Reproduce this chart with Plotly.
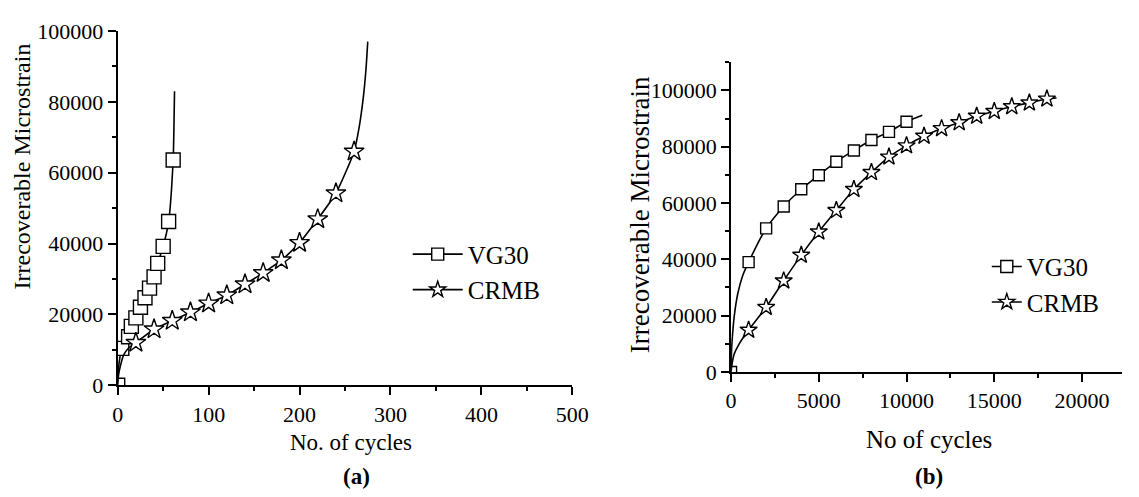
import plotly.graph_objects as go

# ---------------- Panel (a) data ----------------
vg30_a_x = [0, 4.5, 12, 15, 20, 25, 30, 35, 40, 44, 50, 56, 61]
vg30_a_y = [0, 10400, 13700, 16600, 19000, 22000, 24700, 27400, 30600, 34400, 39200, 46200, 63600]
vg30_a_curve_x = [0, 1, 2.5, 4.5, 12, 15, 20, 25, 30, 35, 40, 44, 50, 56, 61, 61.8, 62.5]
vg30_a_curve_y = [0, 5000, 8000, 10400, 13700, 16600, 19000, 22000, 24700, 27400, 30600, 34400, 39200, 46200, 63600, 72000, 83000]

crmb_a_x = [20, 40, 60, 80, 100, 120, 140, 160, 180, 200, 220, 240, 260]
crmb_a_y = [12000, 15800, 18200, 20600, 23100, 25400, 28500, 31700, 35300, 40200, 46900, 54200, 66000]
crmb_a_curve_x = [0, 1, 3, 6.5, 12, 20, 40, 60, 80, 100, 120, 140, 160, 180, 200, 220, 240, 260, 265, 270, 273, 275]
crmb_a_curve_y = [0, 3000, 5500, 8500, 10500, 12000, 15800, 18200, 20600, 23100, 25400, 28500, 31700, 35300, 40200, 46900, 54200, 66000, 72000, 81000, 89000, 97000]

# ---------------- Panel (b) data ----------------
vg30_b_x = [0, 1000, 2000, 3000, 4000, 5000, 6000, 7000, 8000, 9000, 10000]
vg30_b_y = [0, 39000, 51000, 58800, 64900, 69900, 74700, 78700, 82400, 85300, 88900]
vg30_b_curve_x = [0, 30, 94, 186, 372, 650, 1000, 2000, 3000, 4000, 5000, 6000, 7000, 8000, 9000, 10000, 10900]
vg30_b_curve_y = [0, 8000, 14000, 20000, 27500, 34000, 39000, 51000, 58800, 64900, 69900, 74700, 78700, 82400, 85300, 88900, 91200]

crmb_b_x = [1000, 2000, 3000, 4000, 5000, 6000, 7000, 8000, 9000, 10000, 11000, 12000, 13000, 14000, 15000, 16000, 17000, 18000]
crmb_b_y = [14900, 23000, 32400, 41500, 49800, 57400, 64900, 70900, 76400, 80400, 83800, 86500, 88600, 90900, 92600, 94300, 95600, 97000]
crmb_b_curve_x = [0, 60, 186, 465] + crmb_b_x + [18550]
crmb_b_curve_y = [0, 3000, 6500, 10000] + crmb_b_y + [97300]

series_names = ["VG30", "CRMB"]

FONT = "Liberation Serif, Times New Roman, serif"
W, H = 1139, 497

fig = go.Figure()

def add_series(xc, yc, xm, ym, symbol, msize, xa, ya, name, legend):
    fig.add_trace(go.Scatter(x=xc, y=yc, mode="lines", line=dict(color="black", width=1.6, shape="spline", smoothing=0.6),
                             xaxis=xa, yaxis=ya, showlegend=False, hoverinfo="skip"))
    fig.add_trace(go.Scatter(x=xm, y=ym, mode="markers",
                             marker=dict(symbol=symbol, size=msize, color="white", line=dict(color="black", width=1.4)),
                             xaxis=xa, yaxis=ya, showlegend=False, name=name))
    fig.add_trace(go.Scatter(x=[None], y=[None], mode="lines+markers", name=name,
                             line=dict(color="black", width=1.6),
                             marker=dict(symbol=symbol, size=12, color="white", line=dict(color="black", width=1.4)),
                             xaxis=xa, yaxis=ya, legend=legend))

add_series(vg30_a_curve_x, vg30_a_curve_y, vg30_a_x, vg30_a_y, "square", 14, "x", "y", series_names[0], "legend")
add_series(crmb_a_curve_x, crmb_a_curve_y, crmb_a_x, crmb_a_y, "star", 15, "x", "y", series_names[1], "legend")
add_series(vg30_b_curve_x, vg30_b_curve_y, vg30_b_x, vg30_b_y, "square", 11, "x2", "y2", series_names[0], "legend2")
add_series(crmb_b_curve_x, crmb_b_curve_y, crmb_b_x, crmb_b_y, "star", 13, "x2", "y2", series_names[1], "legend2")

axis_common = dict(showline=True, linecolor="black", linewidth=2, ticks="outside", ticklen=8, tickwidth=1.5,
                   tickcolor="black", showgrid=False, zeroline=False, tickformat="d",
                   tickfont=dict(family=FONT, size=22, color="black"))
minor_common = dict(ticks="outside", ticklen=4, tickwidth=1.5, tickcolor="black", showgrid=False)

fig.update_layout(
    width=W, height=H, margin=dict(l=0, r=0, t=0, b=0),
    paper_bgcolor="white", plot_bgcolor="white",
    font=dict(family=FONT, color="black"),
    xaxis=dict(domain=[114 / W, 578 / W], range=[0, 500], dtick=100, anchor="y",
               minor=dict(dtick=50, **minor_common), **axis_common),
    yaxis=dict(domain=[(H - 393) / H, (H - 20) / H], range=[0, 100000], dtick=20000, anchor="x",
               minor=dict(dtick=10000, **minor_common), **axis_common),
    xaxis2=dict(domain=[740 / W, 1.0], range=[0, 22280], dtick=5000, anchor="y2",
                minor=dict(dtick=2500, **minor_common), **axis_common),
    yaxis2=dict(domain=[(H - 379) / H, (H - 53) / H], range=[0, 110000], dtick=20000, anchor="x2",
                minor=dict(dtick=10000, **minor_common), **axis_common),
    legend=dict(x=410 / W, y=(H - 231) / H, xanchor="left", yanchor="top", bgcolor="rgba(0,0,0,0)",
                font=dict(family=FONT, size=25, color="black"), itemwidth=50, tracegroupgap=0),
    legend2=dict(x=1001 / W, y=(H - 244) / H, xanchor="left", yanchor="top", bgcolor="rgba(0,0,0,0)",
                 font=dict(family=FONT, size=25, color="black"), tracegroupgap=0),
    annotations=[
        dict(text="Irrecoverable Microstrain", x=16 / W, y=(H - 163) / H, xref="paper", yref="paper",
             textangle=-90, showarrow=False, xanchor="center", yanchor="middle", font=dict(size=24)),
        dict(text="No. of cycles", x=352 / W, y=(H - 453) / H, xref="paper", yref="paper",
             showarrow=False, xanchor="center", yanchor="middle", font=dict(size=23)),
        dict(text="<b>(a)</b>", x=358 / W, y=(H - 489) / H, xref="paper", yref="paper",
             showarrow=False, xanchor="center", yanchor="middle", font=dict(size=23)),
        dict(text="Irrecoverable Microstrain", x=647 / W, y=(H - 213) / H, xref="paper", yref="paper",
             textangle=-90, showarrow=False, xanchor="center", yanchor="middle", font=dict(size=27)),
        dict(text="No of cycles", x=942 / W, y=(H - 450) / H, xref="paper", yref="paper",
             showarrow=False, xanchor="center", yanchor="middle", font=dict(size=25)),
        dict(text="<b>(b)</b>", x=942 / W, y=(H - 489) / H, xref="paper", yref="paper",
             showarrow=False, xanchor="center", yanchor="middle", font=dict(size=23)),
    ],
)

fig.write_html("out.html")
